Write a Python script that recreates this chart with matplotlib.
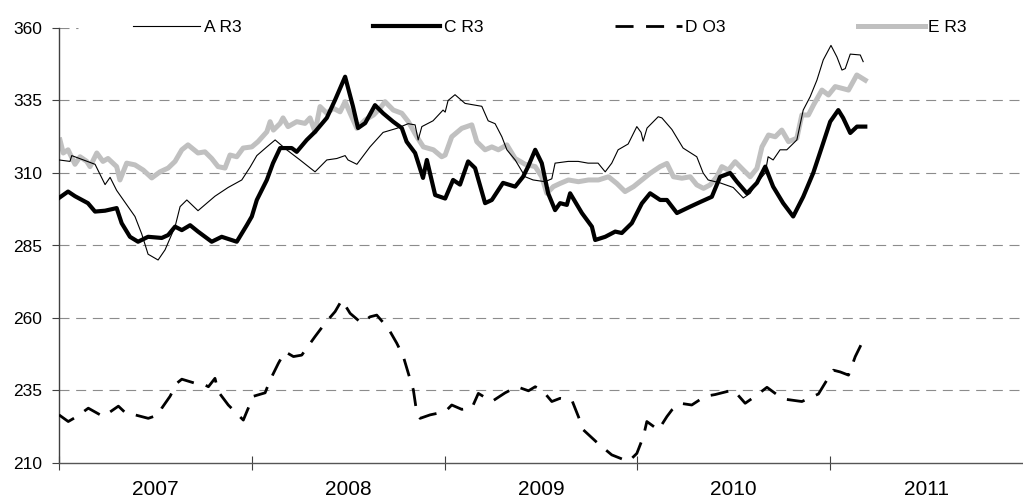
import matplotlib
matplotlib.use("Agg")
import matplotlib.pyplot as plt
from matplotlib.ticker import FixedLocator, NullFormatter, FixedFormatter

plt.rcParams['font.family'] = ['Liberation Sans', 'DejaVu Sans']

# ---- series data (x in decimal years) ----
a_x = [2007.000, 2007.057, 2007.066, 2007.187, 2007.239, 2007.265, 2007.299, 2007.394, 2007.429,
       2007.462, 2007.514, 2007.550, 2007.602, 2007.628, 2007.663, 2007.721, 2007.809, 2007.877,
       2007.948, 2007.991, 2008.026, 2008.078, 2008.121, 2008.181, 2008.250, 2008.328, 2008.389,
       2008.441, 2008.484, 2008.499, 2008.545, 2008.613, 2008.681, 2008.752, 2008.811, 2008.847,
       2008.863, 2008.882, 2008.940, 2008.992, 2009.003, 2009.018, 2009.054, 2009.106, 2009.158,
       2009.193, 2009.226, 2009.262, 2009.297, 2009.323, 2009.366, 2009.418, 2009.459, 2009.521,
       2009.556, 2009.573, 2009.641, 2009.693, 2009.744, 2009.796, 2009.833, 2009.867, 2009.900,
       2009.952, 2009.997, 2010.019, 2010.030, 2010.050, 2010.108, 2010.127, 2010.179, 2010.237,
       2010.308, 2010.341, 2010.367, 2010.429, 2010.497, 2010.549, 2010.585, 2010.620, 2010.663,
       2010.678, 2010.704, 2010.740, 2010.775, 2010.827, 2010.860, 2010.896, 2010.931, 2010.964,
       2011.004, 2011.035, 2011.061, 2011.078, 2011.104, 2011.156, 2011.171]
a_y = [314.5, 314, 316, 313, 306, 308.5, 304, 295, 289,
       282, 280, 283.5, 291.5, 298.4, 300.7, 297, 302, 305,
       307.6, 312, 316, 319, 321.4, 318, 314.5, 310.4, 314.5,
       315, 316, 314.5, 313, 319, 324, 325.4, 327, 326.6,
       321.4, 326, 328, 331.7, 331, 335, 337, 334, 333.4,
       333, 328, 327, 322.5, 318, 314.5, 308.7, 307.6, 307,
       308, 313.4, 314, 314, 313.4, 313.4, 310.4, 313.4, 318,
       320, 326, 324, 321, 325.5, 329.4, 329, 325, 318.6,
       315.6, 310, 307.6, 306.6, 305, 301.4, 303, 306.6, 310,
       315.6, 314.5, 318, 318, 321.4, 331.7, 336.3, 342, 349,
       354, 350, 345.5, 346, 351, 350.7, 348.4]

c_x = [2007.000, 2007.047, 2007.083, 2007.150, 2007.187, 2007.239, 2007.299, 2007.325, 2007.368,
       2007.410, 2007.462, 2007.533, 2007.566, 2007.602, 2007.637, 2007.680, 2007.721, 2007.792,
       2007.844, 2007.922, 2007.974, 2008.000, 2008.026, 2008.078, 2008.110, 2008.147, 2008.207,
       2008.233, 2008.285, 2008.328, 2008.389, 2008.432, 2008.484, 2008.525, 2008.551, 2008.588,
       2008.639, 2008.681, 2008.733, 2008.778, 2008.803, 2008.847, 2008.888, 2008.908, 2008.951,
       2009.003, 2009.044, 2009.080, 2009.122, 2009.158, 2009.210, 2009.245, 2009.303, 2009.366,
       2009.407, 2009.433, 2009.470, 2009.504, 2009.537, 2009.573, 2009.599, 2009.634, 2009.651,
       2009.712, 2009.764, 2009.781, 2009.833, 2009.885, 2009.919, 2009.971, 2010.023, 2010.066,
       2010.118, 2010.153, 2010.205, 2010.274, 2010.326, 2010.386, 2010.429, 2010.481, 2010.516,
       2010.568, 2010.620, 2010.663, 2010.704, 2010.756, 2010.808, 2010.860, 2010.912, 2010.957,
       2011.000, 2011.042, 2011.067, 2011.104, 2011.139, 2011.182]
c_y = [301.4, 303.6, 302, 299.6, 296.7, 297, 297.9, 292.7, 288,
       286.3, 288, 287.6, 288.6, 291.5, 290.3, 292, 289.8, 286.3,
       288, 286.3, 292, 295, 300.7, 307.6, 313.4, 318.6, 318.6,
       317.3, 321.4, 324.2, 329, 335.2, 343.2, 332.9, 325.5, 327.2,
       333.4, 330.6, 327.7, 325.5, 320.8, 316.9, 308.3, 314.5, 302.4,
       301.2, 307.6, 306, 314, 311.7, 299.6, 300.7, 306.6, 305.3,
       308.7, 312.2, 318, 313.4, 303, 297.2, 299.6, 299, 303,
       296.2, 291.5, 286.9, 288, 289.8, 289.3, 292.7, 299.5, 303,
       300.7, 300.7, 296.2, 298.4, 300, 301.8, 308.7, 310, 307,
       303, 306.6, 312.2, 305.3, 299.6, 295, 301.8, 310, 319,
       327.7, 331.7, 329, 323.8, 326, 326]

d_x = [2007.000, 2007.048, 2007.092, 2007.152, 2007.230, 2007.308, 2007.351, 2007.394, 2007.463,
       2007.515, 2007.533, 2007.576, 2007.611, 2007.637, 2007.706, 2007.740, 2007.775, 2007.809,
       2007.826, 2007.878, 2007.956, 2007.974, 2008.008, 2008.069, 2008.095, 2008.138, 2008.172,
       2008.216, 2008.259, 2008.328, 2008.380, 2008.432, 2008.467, 2008.510, 2008.570, 2008.613,
       2008.648, 2008.708, 2008.752, 2008.786, 2008.812, 2008.838, 2008.856, 2008.873, 2008.925,
       2009.003, 2009.037, 2009.089, 2009.141, 2009.175, 2009.245, 2009.314, 2009.375, 2009.435,
       2009.470, 2009.513, 2009.556, 2009.599, 2009.660, 2009.694, 2009.720, 2009.798, 2009.867,
       2009.954, 2009.997, 2010.031, 2010.049, 2010.109, 2010.153, 2010.179, 2010.222, 2010.282,
       2010.351, 2010.403, 2010.498, 2010.559, 2010.611, 2010.672, 2010.723, 2010.766, 2010.853,
       2010.939, 2010.983, 2011.017, 2011.052, 2011.095, 2011.130, 2011.164]
d_y = [226.6, 224.3, 226, 228.9, 226, 229.6, 226.9, 226.6, 225.4,
       226.6, 228.9, 233, 237.5, 238.9, 237.5, 237.5, 236.3, 239.2,
       234.6, 230, 224.8, 227.7, 233, 234.2, 238.6, 244.4, 248.4,
       246.7, 247.2, 253.6, 258.2, 262.2, 266.2, 261.6, 258.2, 260.4,
       261, 256.4, 251.3, 246.7, 240.9, 235.2, 227.1, 225.4, 226.6,
       227.7, 230, 228.5, 228.9, 234, 231.2, 234.2, 236.3, 234.9,
       236.3, 234.6, 231.2, 232.3, 231.7, 226, 221.4, 216.6, 212.8,
       210.5, 213.3, 219.1, 224.3, 221.4, 226, 228.3, 230.6, 230,
       233, 233.6, 235.2, 230.6, 233, 236.1, 233.6, 232, 231.2,
       233.8, 238.6, 242, 241.4, 240.3, 246.7, 251.3]

e_x = [2007.005, 2007.022, 2007.047, 2007.083, 2007.109, 2007.144, 2007.161, 2007.196, 2007.228,
       2007.254, 2007.299, 2007.316, 2007.351, 2007.394, 2007.437, 2007.481, 2007.524, 2007.566,
       2007.602, 2007.637, 2007.669, 2007.721, 2007.757, 2007.792, 2007.825, 2007.861, 2007.887,
       2007.922, 2007.955, 2008.000, 2008.032, 2008.078, 2008.095, 2008.112, 2008.147, 2008.162,
       2008.188, 2008.233, 2008.276, 2008.302, 2008.328, 2008.354, 2008.389, 2008.423, 2008.458,
       2008.484, 2008.510, 2008.545, 2008.588, 2008.631, 2008.665, 2008.691, 2008.734, 2008.778,
       2008.812, 2008.856, 2008.890, 2008.942, 2008.985, 2009.003, 2009.037, 2009.089, 2009.141,
       2009.167, 2009.210, 2009.245, 2009.279, 2009.323, 2009.366, 2009.418, 2009.470, 2009.504,
       2009.530, 2009.564, 2009.599, 2009.642, 2009.694, 2009.746, 2009.798, 2009.850, 2009.893,
       2009.936, 2009.980, 2010.023, 2010.066, 2010.118, 2010.153, 2010.187, 2010.231, 2010.274,
       2010.308, 2010.343, 2010.377, 2010.412, 2010.438, 2010.472, 2010.507, 2010.550, 2010.585,
       2010.620, 2010.646, 2010.680, 2010.715, 2010.749, 2010.784, 2010.827, 2010.853, 2010.887,
       2010.913, 2010.957, 2010.991, 2011.026, 2011.061, 2011.095, 2011.138, 2011.182]
e_y = [321.4, 316.9, 318, 313, 315.6, 314, 312.2, 316.9, 314,
       315, 312.2, 307.6, 313.4, 312.8, 311, 308.3, 310.4, 311.7,
       314, 318, 319.7, 316.9, 317.3, 315, 312.2, 311.7, 316.2,
       315.6, 318.6, 319, 320.8, 324.2, 327.7, 324.8, 327.1, 329,
       326, 327.7, 327.1, 329, 324.2, 332.9, 330.6, 332.3, 331.1,
       334.6, 330.6, 325.4, 328.3, 330, 332.3, 334.6, 331.7, 330.6,
       327.7, 322.5, 319, 318, 315.6, 316.2, 322.5, 325.4, 326.6,
       320.8, 318, 319, 318, 319.7, 315, 313, 312.2, 308.7,
       303, 305.3, 306.4, 307.6, 307, 307.6, 307.6, 308.7, 306.4,
       303.6, 305.3, 307.6, 309.9, 312.2, 313.3, 308.7, 308.2, 308.7,
       305.9, 304.7, 305.9, 308.7, 312.2, 311, 313.9, 311, 308.7,
       311.6, 319, 323.1, 322.5, 324.8, 320.8, 322, 330, 330,
       333.4, 338.6, 336.9, 339.8, 339.2, 338.6, 343.8, 342]

series_labels = ["A R3", "C R3", "D O3", "E R3"]
y_ticks = [210, 235, 260, 285, 310, 335, 360]
year_ticks = [2007, 2008, 2009, 2010, 2011]
year_labels = ["2007", "2008", "2009", "2010", "2011"]

# ---- figure ----
fig = plt.figure(figsize=(10.23, 5.04), dpi=100)
ax = fig.add_axes([59 / 1023, 1 - 463 / 504, 964 / 1023, 435 / 504])

ax.set_xlim(2007, 2012)
ax.set_ylim(210, 360)

# horizontal dashed gridlines
for lvl in y_ticks[1:-1]:
    ax.axhline(lvl, color="#8c8c8c", lw=0.8, ls=(0, (9, 6)), zorder=0)
ax.axhline(y_ticks[-1], xmin=0, xmax=0.02, color="#8c8c8c", lw=0.8, ls=(0, (9, 6)), zorder=0)

ax.plot(a_x, a_y, color="black", lw=0.8, label=series_labels[0], zorder=3)
ax.plot(c_x, c_y, color="black", lw=3.0, label=series_labels[1], zorder=4,
        solid_joinstyle="round")
ax.plot(d_x, d_y, color="black", lw=2.0, ls=(0, (6.5, 4.5)), label=series_labels[2], zorder=3,
        dash_capstyle="butt")
ax.plot(e_x, e_y, color="#c0c0c0", lw=3.6, label=series_labels[3], zorder=2,
        solid_joinstyle="round")

# spines
for s in ("top", "right"):
    ax.spines[s].set_visible(False)
ax.spines["left"].set_color("#404040")
ax.spines["bottom"].set_color("#555555")
ax.spines["left"].set_linewidth(1.0)
ax.spines["bottom"].set_linewidth(1.0)

# y axis
ax.set_yticks(y_ticks)
ax.set_yticklabels([str(v) for v in y_ticks])
ax.tick_params(axis="y", direction="out", length=5, width=0.8, color="#404040",
               labelsize=12.5, pad=7)

# x axis: ticks at year boundaries, labels centred in each year
ax.xaxis.set_major_locator(FixedLocator(year_ticks))
ax.xaxis.set_major_formatter(NullFormatter())
ax.xaxis.set_minor_locator(FixedLocator([y + 0.5 for y in year_ticks]))
ax.xaxis.set_minor_formatter(FixedFormatter(year_labels))
ax.tick_params(axis="x", which="major", direction="inout", length=10, width=0.8, color="#404040")
ax.tick_params(axis="x", which="minor", length=0, labelsize=15, pad=12)

leg = ax.legend(loc="center", bbox_to_anchor=(0.5376, 0.946), bbox_transform=fig.transFigure,
                ncol=4, fontsize=12.5, handlelength=3.85, handletextpad=0.2,
                columnspacing=7.6, frameon=True, borderpad=0.25, borderaxespad=0)
leg.get_frame().set_facecolor("white")
leg.get_frame().set_edgecolor("none")
leg.get_frame().set_alpha(1.0)
leg.get_frame().set_boxstyle("square", pad=0)

fig.savefig("out.png", dpi=100)
